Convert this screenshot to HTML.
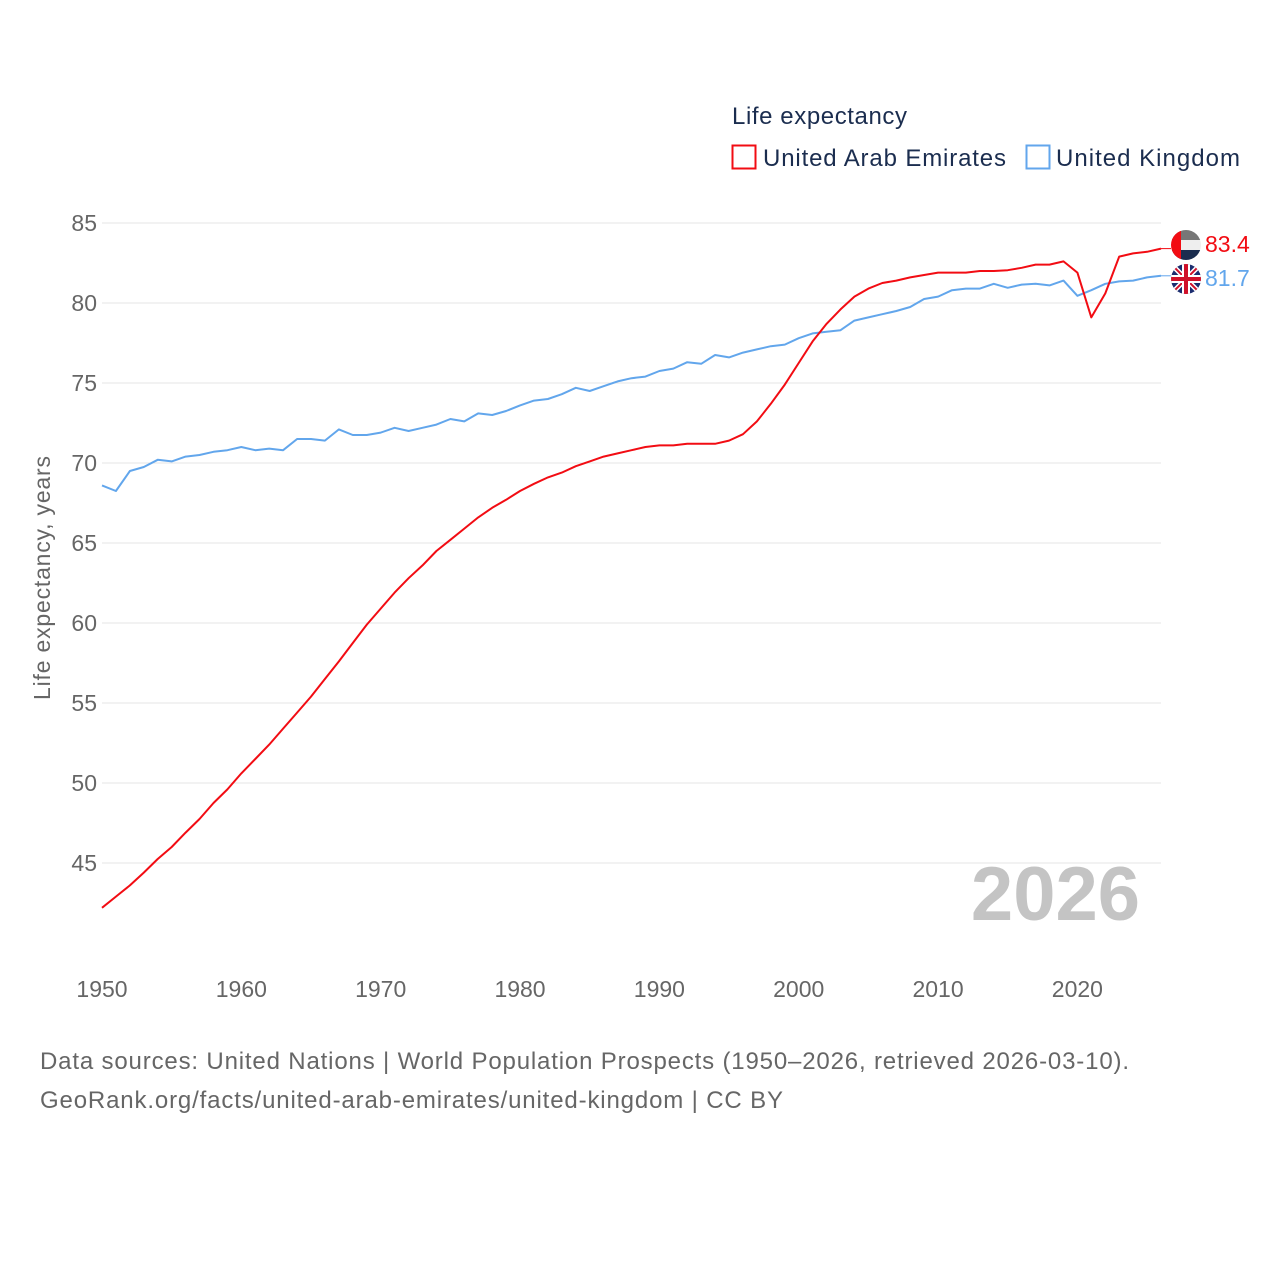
<!DOCTYPE html>
<html><head><meta charset="utf-8"><style>
body{margin:0;background:#fff;}
svg{display:block;font-family:"Liberation Sans",sans-serif;}
</style></head><body>
<svg id="chart" width="1280" height="1280" viewBox="0 0 1280 1280">
<rect width="1280" height="1280" fill="#fff"/>
<g id="grid"></g>
<g id="yticks"></g>
<g id="xticks"></g>
<text x="1140" y="920" text-anchor="end" font-size="76" font-weight="bold" fill="#c4c4c4">2026</text>
<text transform="translate(50,578) rotate(-90)" text-anchor="middle" font-size="23" fill="#666" textLength="244">Life expectancy, years</text>
<g id="series"></g>
<g>
<text x="732" y="124" font-size="24" fill="#1b2d4f" textLength="175">Life expectancy</text>
<g><rect x="732.5" y="145.5" width="23" height="23" fill="none" stroke="#f20c13" stroke-width="2"/><text x="763" y="166" font-size="24" fill="#1b2d4f" textLength="243">United Arab Emirates</text></g>
<g><rect x="1026.5" y="145.5" width="23" height="23" fill="none" stroke="#62a6ec" stroke-width="2"/><text x="1056" y="166" font-size="24" fill="#1b2d4f" textLength="184">United Kingdom</text></g>
</g>
<g>
<clipPath id="cu"><circle cx="1186" cy="245" r="15"/></clipPath>
<g clip-path="url(#cu)"><rect x="1171" y="230" width="30" height="10" fill="#777"/><rect x="1171" y="240" width="30" height="10" fill="#eee"/><rect x="1171" y="250" width="30" height="10" fill="#1b2d4f"/><rect x="1171" y="230" width="10" height="30" fill="#f20c13"/></g>
<text x="1205" y="252" font-size="23" fill="#f20c13">83.4</text></g>
<g>
<clipPath id="ck"><circle cx="1186" cy="279" r="15"/></clipPath>
<g clip-path="url(#ck)"><rect x="1171" y="264" width="30" height="30" fill="#1b2d6f"/><path d="M1171 264L1201 294M1201 264L1171 294" stroke="#fff" stroke-width="5"/><path d="M1171 264L1201 294M1201 264L1171 294" stroke="#d0102a" stroke-width="2"/><path d="M1186 264V294M1171 279H1201" stroke="#fff" stroke-width="8"/><path d="M1186 264V294M1171 279H1201" stroke="#d0102a" stroke-width="4"/></g>
<text x="1205" y="286" font-size="23" fill="#62a6ec">81.7</text></g>
<text x="40" y="1069" font-size="24" fill="#666" textLength="1089">Data sources: United Nations | World Population Prospects (1950–2026, retrieved 2026-03-10).</text>
<text x="40" y="1108" font-size="24" fill="#666" textLength="743">GeoRank.org/facts/united-arab-emirates/united-kingdom | CC BY</text>
</svg>
<script>
const years=[];for(let y=1950;y<=2026;y++)years.push(y);
const uae=[42.2,42.9,43.6,44.4,45.25,46.0,46.9,47.75,48.75,49.6,50.6,51.5,52.4,53.4,54.4,55.4,56.5,57.6,58.75,59.9,60.9,61.9,62.8,63.6,64.5,65.2,65.9,66.6,67.2,67.7,68.25,68.7,69.1,69.4,69.8,70.1,70.4,70.6,70.8,71.0,71.1,71.1,71.2,71.2,71.2,71.4,71.8,72.6,73.7,74.9,76.25,77.6,78.7,79.6,80.4,80.9,81.25,81.4,81.6,81.75,81.9,81.9,81.9,82.0,82.0,82.05,82.2,82.4,82.4,82.6,81.9,79.1,80.6,82.9,83.1,83.2,83.4];
const uk=[68.6,68.25,69.5,69.75,70.2,70.1,70.4,70.5,70.7,70.8,71.0,70.8,70.9,70.8,71.5,71.5,71.4,72.1,71.75,71.75,71.9,72.2,72.0,72.2,72.4,72.75,72.6,73.1,73.0,73.25,73.6,73.9,74.0,74.3,74.7,74.5,74.8,75.1,75.3,75.4,75.75,75.9,76.3,76.2,76.75,76.6,76.9,77.1,77.3,77.4,77.8,78.1,78.2,78.3,78.9,79.1,79.3,79.5,79.75,80.25,80.4,80.8,80.9,80.9,81.2,80.95,81.15,81.2,81.1,81.4,80.45,80.8,81.2,81.35,81.4,81.6,81.7];
const yTicks=[45,50,55,60,65,70,75,80,85];
const xTicks=[1950,1960,1970,1980,1990,2000,2010,2020];
const NS="http://www.w3.org/2000/svg";
const X=y=>102+(y-1950)*(1161-102)/76;
const Y=v=>863-(v-45)*16;
function mk(tag,attrs,parent,txt){const e=document.createElementNS(NS,tag);for(const k in attrs)e.setAttribute(k,attrs[k]);if(txt!==undefined)e.textContent=txt;parent.appendChild(e);return e;}
const grid=document.getElementById('grid'),yt=document.getElementById('yticks'),xt=document.getElementById('xticks'),ser=document.getElementById('series');
yTicks.forEach(v=>{
 const l=mk('line',{x1:102,x2:1161,y1:Y(v),y2:Y(v),stroke:'#e6e6e6','stroke-width':1},grid);
 
 
 const t=mk('text',{x:97,y:Y(v)+8,'text-anchor':'end','font-size':23,fill:'#666'},yt,String(v));
 
 
});
xTicks.forEach(v=>{
 const t=mk('text',{x:X(v),y:997,'text-anchor':'middle','font-size':23,fill:'#666'},xt,String(v));
 
 
});
function line(vals,color,name){
 const d=vals.map((v,i)=>(i?'L':'M')+X(years[i]).toFixed(1)+' '+Y(v).toFixed(1)).join('');
 const p=mk('path',{d:d,fill:'none',stroke:color,'stroke-width':2,'stroke-linejoin':'round'},ser);
 
 
 const last=vals[vals.length-1];
 const c=mk('path',{d:`M${X(2026)} ${Y(last)}H1171`,stroke:color,'stroke-width':1,fill:'none'},ser);
 
 
}
line(uk,'#62a6ec','uk-line');
line(uae,'#f20c13','uae-line');
</script>
</body></html>
